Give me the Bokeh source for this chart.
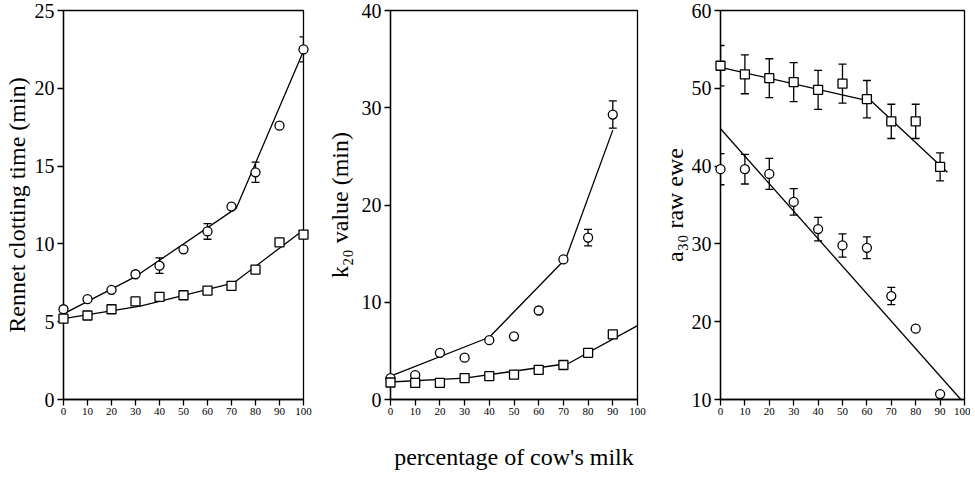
from bokeh.plotting import figure
from bokeh.layouts import row
from bokeh.models import Range1d, FixedTicker, Whisker, ColumnDataSource, TeeHead
from bokeh.embed import file_html
from bokeh.resources import INLINE

# ---------------- data ----------------
pct = [0, 10, 20, 30, 40, 50, 60, 70, 80, 90, 100]
x_ticks = [0, 10, 20, 30, 40, 50, 60, 70, 80, 90, 100]

# Panel A: rennet clotting time (min)
a_circ = [5.8, 6.45, 7.05, 8.05, 8.6, 9.65, 10.8, 12.4, 14.6, 17.6, 22.5]
a_circ_err = [0, 0, 0, 0, 0.5, 0, 0.5, 0, 0.65, 0, 0.8]
a_sq = [5.2, 5.4, 5.8, 6.3, 6.6, 6.7, 7.0, 7.3, 8.35, 10.1, 10.6]
a_circ_fit_x = [0, 30, 72, 100]
a_circ_fit_y = [5.5, 7.9, 12.3, 22.4]
a_sq_fit_x = [0, 32, 71, 100]
a_sq_fit_y = [5.2, 6.0, 7.5, 10.9]
a_yticks = [0, 5, 10, 15, 20, 25]

# Panel B: k20 value (min)
pct_b = [0, 10, 20, 30, 40, 50, 60, 70, 80, 90]
b_circ = [2.2, 2.5, 4.8, 4.3, 6.1, 6.5, 9.15, 14.4, 16.65, 29.3]
b_circ_err = [0, 0, 0, 0, 0, 0, 0, 0, 0.85, 1.4]
b_sq = [1.75, 1.7, 1.7, 2.2, 2.4, 2.55, 3.05, 3.55, 4.8, 6.7]
b_circ_fit_x = [0, 40, 71, 90]
b_circ_fit_y = [2.4, 6.4, 14.5, 27.7]
b_sq_fit_x = [0, 30, 72, 100]
b_sq_fit_y = [1.8, 2.2, 3.7, 7.6]
b_yticks = [0, 10, 20, 30, 40]

# Panel C: a30 raw ewe
pct_c = [0, 10, 20, 30, 40, 50, 60, 70, 80, 90]
c_sq = [52.9, 51.8, 51.3, 50.8, 49.8, 50.6, 48.6, 45.75, 45.75, 39.9]
c_sq_err = [2.6, 2.5, 2.5, 2.5, 2.5, 2.5, 2.4, 2.2, 2.2, 1.8]
c_circ = [39.6, 39.6, 39.0, 35.4, 31.9, 29.8, 29.5, 23.3, 19.1, 10.7]
c_circ_err = [2.0, 1.9, 2.0, 1.7, 1.5, 1.5, 1.4, 1.1, 0, 0]
c_sq_fit_x = [0, 62, 93]
c_sq_fit_y = [52.7, 48.3, 39.2]
c_circ_fit_x = [0, 98.5]
c_circ_fit_y = [44.8, 10.0]
c_yticks = [10, 20, 30, 40, 50, 60]

FONT = "Liberation Serif"
LW = 1.3


def make_panel(ylabel, yr, yticks, left, fw, right, xlabel="", label_standoff=2):
    p = figure(frame_width=fw, frame_height=389,
               min_border_left=left, min_border_right=right,
               min_border_top=10, min_border_bottom=73,
               x_range=Range1d(0, 100), y_range=Range1d(*yr),
               output_backend="svg", toolbar_location=None)
    p.xgrid.visible = False
    p.ygrid.visible = False
    p.outline_line_color = "black"
    p.outline_line_width = LW
    p.background_fill_color = "white"
    p.border_fill_color = "white"
    p.xaxis.ticker = FixedTicker(ticks=x_ticks)
    p.yaxis.ticker = FixedTicker(ticks=yticks)
    for ax in (p.xaxis[0], p.yaxis[0]):
        ax.axis_line_color = "black"
        ax.axis_line_width = LW
        ax.major_tick_line_color = "black"
        ax.major_tick_line_width = LW
        ax.major_tick_in = 0
        ax.major_tick_out = 6
        ax.minor_tick_in = 0
        ax.minor_tick_out = 0
        ax.major_label_text_font = FONT
        ax.major_label_text_color = "black"
        ax.axis_label_text_font = FONT
        ax.axis_label_text_font_style = "normal"
        ax.axis_label_text_color = "black"
        ax.axis_label_text_font_size = "24px"
    p.xaxis.major_label_text_font_size = "11px"
    p.xaxis.major_label_standoff = 2
    p.yaxis.major_label_text_font_size = "20px"
    p.yaxis.major_label_standoff = 3
    p.yaxis.axis_label = ylabel
    p.yaxis.axis_label_standoff = label_standoff
    if xlabel:
        p.xaxis.axis_label = xlabel
        p.xaxis.axis_label_standoff = 26
    return p


def add_series(p, xs, ys, marker, errs=None):
    if errs is not None:
        ex = [x for x, e in zip(xs, errs) if e > 0]
        up = [y + e for y, e in zip(ys, errs) if e > 0]
        lo = [y - e for y, e in zip(ys, errs) if e > 0]
        src = ColumnDataSource(dict(x=ex, upper=up, lower=lo))
        w = Whisker(source=src, base="x", upper="upper", lower="lower",
                    line_color="black", line_width=LW, level="annotation",
                    upper_head=TeeHead(size=8, line_color="black", line_width=LW),
                    lower_head=TeeHead(size=8, line_color="black", line_width=LW))
        p.add_layout(w)
    p.scatter(xs, ys, marker=marker, size=9, fill_color="white",
              line_color="black", line_width=LW, level="overlay")


pA = make_panel("Rennet clotting time (min)", (0, 25), a_yticks, 57, 240, 20)
pA.line(a_circ_fit_x, a_circ_fit_y, line_color="black", line_width=LW)
pA.line(a_sq_fit_x, a_sq_fit_y, line_color="black", line_width=LW)
add_series(pA, pct, a_circ, "circle", a_circ_err)
add_series(pA, pct, a_sq, "square")

pB = make_panel("k\u2082\u2080 value (min)", (0, 40), b_yticks, 62, 247, 20,
                xlabel="percentage of cow's milk", label_standoff=6)
pB.line(b_circ_fit_x, b_circ_fit_y, line_color="black", line_width=LW)
pB.line(b_sq_fit_x, b_sq_fit_y, line_color="black", line_width=LW)
add_series(pB, pct_b, b_circ, "circle", b_circ_err)
add_series(pB, pct_b, b_sq, "square")

pC = make_panel("a\u2083\u2080 raw ewe", (10, 60), c_yticks, 63, 244, 6, label_standoff=1)
pC.line(c_sq_fit_x, c_sq_fit_y, line_color="black", line_width=LW)
pC.line(c_circ_fit_x, c_circ_fit_y, line_color="black", line_width=LW)
add_series(pC, pct_c, c_sq, "square", c_sq_err)
add_series(pC, pct_c, c_circ, "circle", c_circ_err)

layout = row(pA, pB, pC)
open("out.html", "w").write(file_html(layout, INLINE))
